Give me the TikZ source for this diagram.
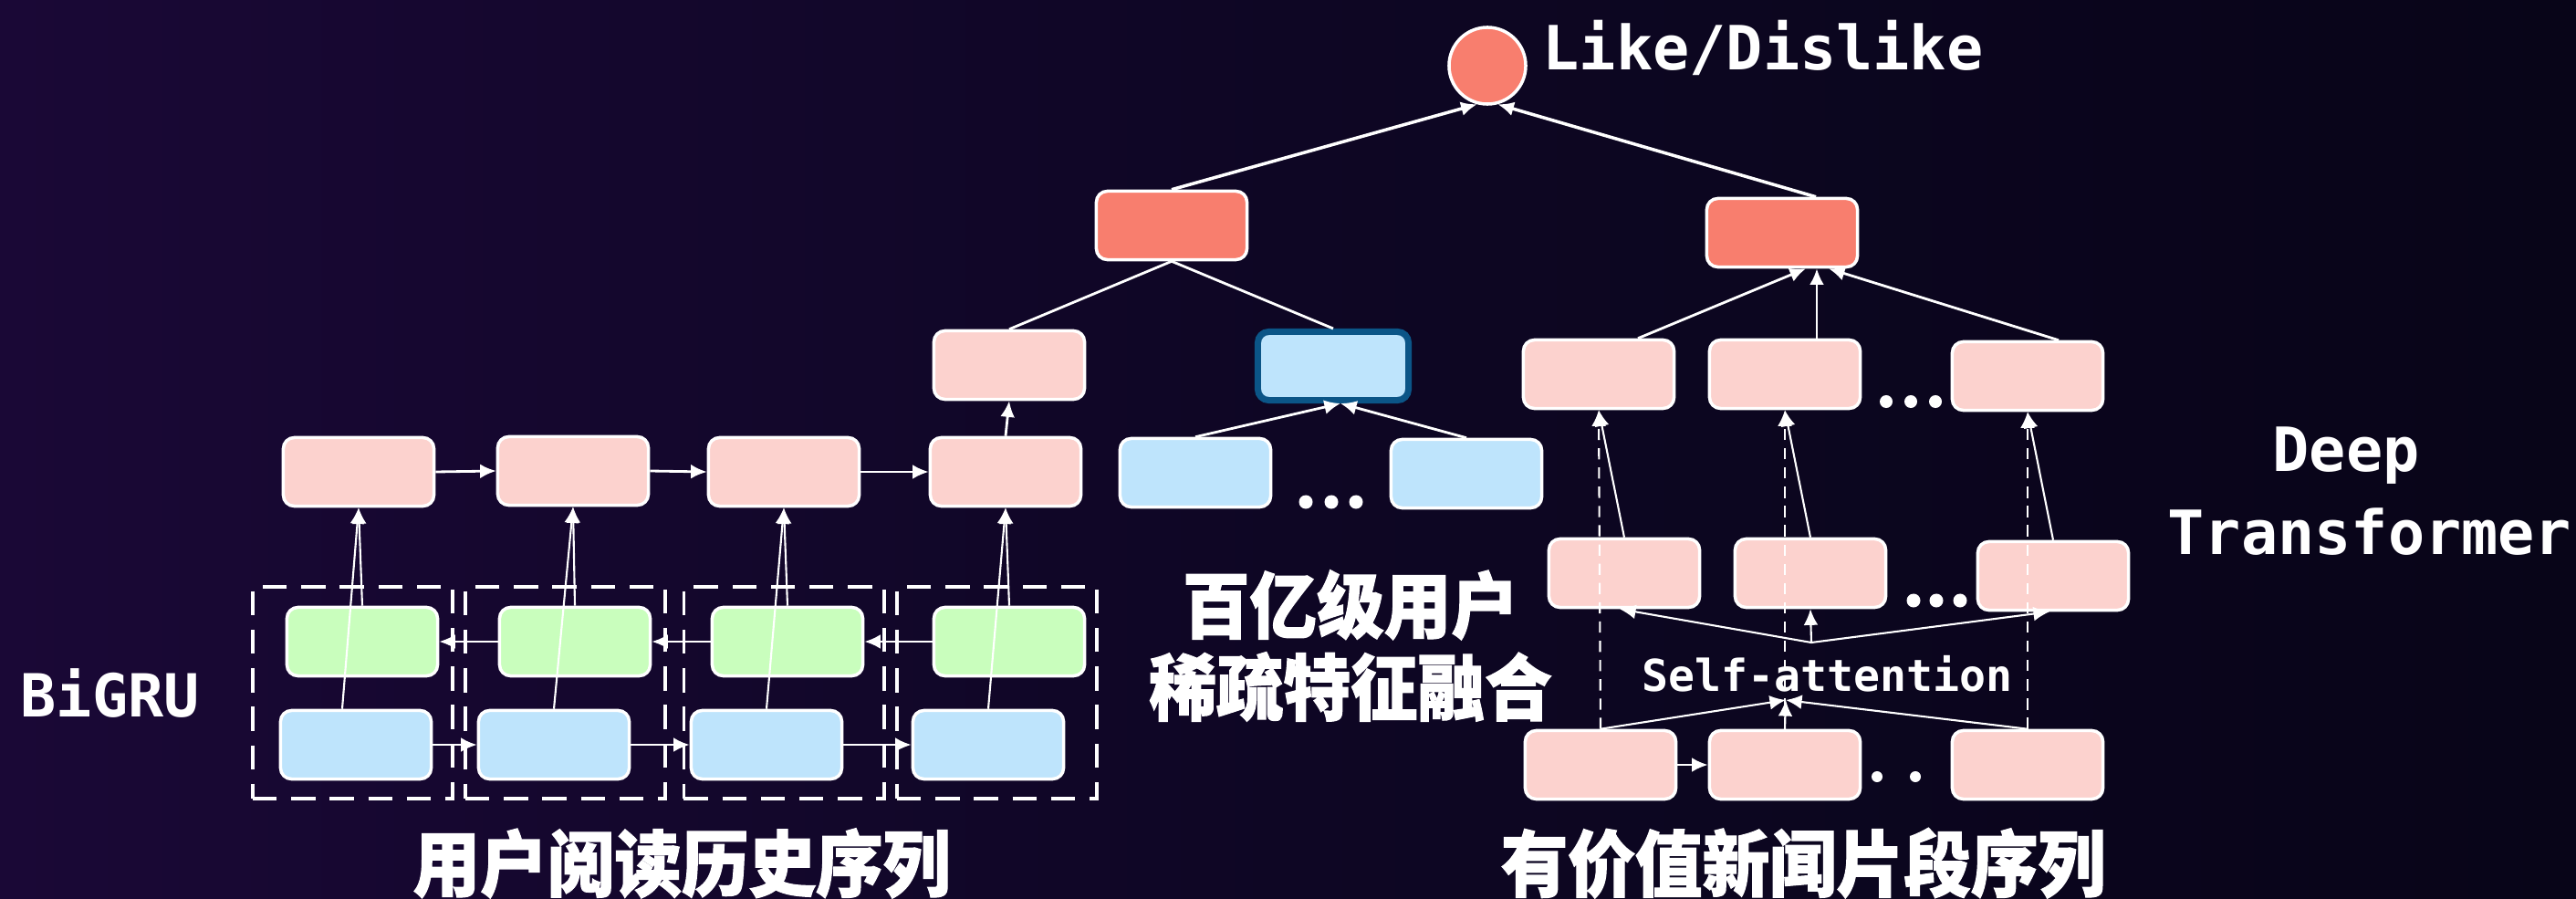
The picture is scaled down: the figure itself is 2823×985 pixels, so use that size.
\documentclass[tikz,border=0pt]{standalone}
\usepackage{fontspec}
\newfontfamily\monofnt{DejaVu Sans Mono}
\newfontfamily\cjkfnt{Noto Sans CJK SC}[BoldFeatures={FakeStretch=0.93,FakeBold=1.5}]
\usetikzlibrary{arrows.meta,calc}
\definecolor{pinkc}{RGB}{252,210,206}
\definecolor{salmonc}{RGB}{248,126,110}
\definecolor{greenc}{RGB}{201,254,189}
\definecolor{bluec}{RGB}{190,228,252}
\definecolor{darkbluec}{RGB}{11,85,135}
\definecolor{bgL}{RGB}{26,8,54}
\definecolor{bgM}{RGB}{14,6,36}
\definecolor{bgR}{RGB}{8,5,24}
\begin{document}
\begin{tikzpicture}[x=0.01cm,y=-0.01cm,
  nbox/.style={rectangle, rounded corners=0.12cm, draw=white, line width=1pt, minimum width=1.65cm, minimum height=0.75cm, inner sep=0pt},
  pinkbox/.style={nbox, fill=pinkc},
  redbox/.style={nbox, fill=salmonc},
  greenbox/.style={nbox, fill=greenc},
  bluebox/.style={nbox, fill=bluec},
  arr/.style={draw=white, line width=0.8pt, -{Latex[length=5pt,width=4.5pt]}},
  ln/.style={draw=white, line width=0.8pt},
  grp/.style={rectangle, draw=white, line width=1.1pt, dash pattern=on 7.5pt off 4.5pt, minimum width=2.19cm, minimum height=2.32cm, inner sep=0pt},
  dline/.style={draw=white, line width=0.6pt, dash pattern=on 3.5pt off 2.5pt, -{Latex[length=5pt,width=4.5pt]}},
  dotmark/.style={circle, fill=white, inner sep=0pt, minimum size=0.15cm},
  monot/.style={text=white, inner sep=0pt, anchor=base west},
  cjkt/.style={text=white, inner sep=0pt, anchor=base, font=\cjkfnt\bfseries\fontsize{22.5pt}{26pt}\selectfont}
]
\fill[left color=bgL, right color=bgR, middle color=bgM] (0,0) rectangle (2823,985);
\useasboundingbox (0,0) rectangle (2823,985);

% top output
\node[circle, draw=white, line width=1pt, fill=salmonc, minimum size=0.84cm, inner sep=0pt] (like) at (1630,72) {};
\node[monot, font=\monofnt\bfseries\fontsize{19pt}{22pt}\selectfont] (liketxt) at (1690,77) {Like/Dislike};

\node[redbox] (rl) at (1284,247) {};
\node[redbox] (rr) at (1953,255) {};

% middle user feature branch
\node[pinkbox] (pk) at (1106,400) {};
\node[bluebox, draw=darkbluec, line width=2pt] (db) at (1461,401) {};
\node[bluebox] (l1) at (1310,518) {};
\node[bluebox] (l2) at (1607,519) {};
\node[dotmark] (ld1) at (1431,550) {};
\node[dotmark] (ld2) at (1459,550) {};
\node[dotmark] (ld3) at (1486,550) {};

% left BiGRU chain
\node[grp] (g1) at (386.5,759) {};
\node[grp] (g2) at (619.5,759) {};
\node[grp] (g3) at (859,759) {};
\node[grp] (g4) at (1092.5,759) {};
\node[pinkbox] (p1) at (393,517) {};
\node[pinkbox] (p2) at (628,516) {};
\node[pinkbox] (p3) at (859,517) {};
\node[pinkbox] (p4) at (1102,517) {};
\node[greenbox] (gr1) at (397,703) {};
\node[greenbox] (gr2) at (630,703) {};
\node[greenbox] (gr3) at (863,703) {};
\node[greenbox] (gr4) at (1106,703) {};
\node[bluebox] (bl1) at (390,816) {};
\node[bluebox] (bl2) at (607,816) {};
\node[bluebox] (bl3) at (840,816) {};
\node[bluebox] (bl4) at (1083,816) {};

% right transformer
\node[pinkbox] (t1) at (1752,410) {};
\node[pinkbox] (t2) at (1956,410) {};
\node[pinkbox] (t3) at (2222,412) {};
\node[dotmark, minimum size=0.14cm] (td1) at (2067,440) {};
\node[dotmark, minimum size=0.14cm] (td2) at (2094,440) {};
\node[dotmark, minimum size=0.14cm] (td3) at (2121,440) {};
\node[pinkbox] (m1) at (1780,628) {};
\node[pinkbox] (m2) at (1984,628) {};
\node[pinkbox] (m3) at (2250,631) {};
\node[dotmark] (md1) at (2097,658) {};
\node[dotmark] (md2) at (2122,658) {};
\node[dotmark] (md3) at (2148,658) {};
\node[pinkbox] (b1) at (1754,838) {};
\node[pinkbox] (b2) at (1956,838) {};
\node[pinkbox] (b3) at (2222,838) {};
\node[dotmark, minimum size=0.12cm] (bd1) at (2057,851) {};
\node[dotmark, minimum size=0.12cm] (bd2) at (2099,851) {};

\coordinate (sain) at (1957,767);
\coordinate (saout) at (1985,704);
\coordinate (rrb) at ($(rr.south)+(38,0)$);
\coordinate (rrt) at ($(rr.north)+(37,0)$);

% texts
\node[monot, font=\monofnt\bfseries\fontsize{13.7pt}{16pt}\selectfont] (satxt) at (1799,757) {Self-attention};
\node[monot, font=\monofnt\bfseries\fontsize{18.5pt}{22pt}\selectfont] (bigru) at (22,785) {BiGRU};
\node[monot, font=\monofnt\bfseries\fontsize{19pt}{22pt}\selectfont] (deep) at (2490,516) {Deep};
\node[monot, font=\monofnt\bfseries\fontsize{19pt}{22pt}\selectfont] (transf) at (2375,607) {Transformer};
\node[cjkt] (c1) at (1480,693) {百亿级用户};
\node[cjkt] (c2) at (1480,783) {稀疏特征融合};
\node[cjkt] (c3) at (747,976) {用户阅读历史序列};
\node[cjkt] (c4) at (1976,976) {有价值新闻片段序列};

% connectors: top
\draw[arr, line width=1pt] (rl.north) -- (like.-105);
\draw[arr, line width=1pt] (rrt) -- (like.-75);
\draw[ln] (rl.south) -- (pk.north);
\draw[ln] (rl.south) -- (db.north);
\draw[arr] (p4.north) -- (pk.south);
\draw[arr] (l1.north) -- ($(db.south)+(8,0)$);
\draw[arr] (l2.north) -- ($(db.south)+(8,0)$);

% left chain
\draw[arr] (p1.east) -- (p2.west);
\draw[arr] (p2.east) -- (p3.west);
\draw[arr] (p3.east) -- (p4.west);
\draw[arr] (gr2.west) -- (gr1.east);
\draw[arr] (gr3.west) -- (gr2.east);
\draw[arr] (gr4.west) -- (gr3.east);
\draw[arr] (bl1.east) -- (bl2.west);
\draw[arr] (bl2.east) -- (bl3.west);
\draw[arr] (bl3.east) -- (bl4.west);
\draw[arr, line width=0.6pt] (gr1.north) -- (p1.south);
\draw[arr, line width=0.6pt] (gr2.north) -- (p2.south);
\draw[arr, line width=0.6pt] (gr3.north) -- (p3.south);
\draw[arr, line width=0.6pt] (gr4.north) -- (p4.south);
\draw[arr, line width=0.6pt] ($(bl1.north)+(-15,0)$) -- (p1.south);
\draw[arr, line width=0.6pt] (bl2.north) -- (p2.south);
\draw[arr, line width=0.6pt] (bl3.north) -- (p3.south);
\draw[arr, line width=0.6pt] (bl4.north) -- (p4.south);

% right transformer
\draw[arr] ($(t1.north)+(43,0)$) -- ($(rrb)+(-12,0)$);
\draw[arr] ($(t2.north)+(35,0)$) -- (rrb);
\draw[arr] ($(t3.north)+(34,0)$) -- ($(rrb)+(13,0)$);
\draw[arr, line width=0.6pt] (m1.north) -- (t1.south);
\draw[arr, line width=0.6pt] (m2.north) -- (t2.south);
\draw[arr, line width=0.6pt] (m3.north) -- (t3.south);
\draw[dline] (b1.north) -- (t1.south);
\draw[dline] (b2.north) -- (t2.south);
\draw[dline] (b3.north) -- (t3.south);
\draw[arr, line width=0.6pt] (b1.north) -- (sain);
\draw[arr, line width=0.6pt] (b2.north) -- (sain);
\draw[arr, line width=0.6pt] (b3.north) -- (sain);
\draw[arr, line width=0.6pt] (saout) -- ($(m1.south)+(-5,0)$);
\draw[arr, line width=0.6pt] (saout) -- (m2.south);
\draw[arr, line width=0.6pt] (saout) -- ($(m3.south)+(-4,0)$);
\draw[arr] (b1.east) -- (b2.west);
\end{tikzpicture}
\end{document}
